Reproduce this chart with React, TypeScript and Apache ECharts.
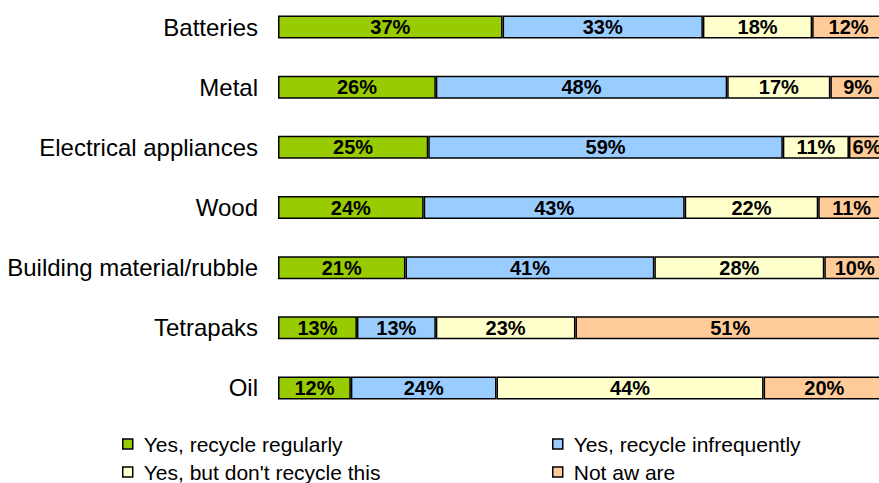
import React, { useEffect, useRef } from "react";
import * as echarts from "echarts";

const categories = [
  "Batteries",
  "Metal",
  "Electrical appliances",
  "Wood",
  "Building material/rubble",
  "Tetrapaks",
  "Oil",
];
const seriesNames = [
  "Yes, recycle regularly",
  "Yes, recycle infrequently",
  "Yes, but don't recycle this",
  "Not aw are",
];
const regularly = [37, 26, 25, 24, 21, 13, 12];
const infrequently = [33, 48, 59, 43, 41, 13, 24];
const dontRecycle = [18, 17, 11, 22, 28, 23, 44];
const notAware = [12, 9, 6, 11, 10, 51, 20];
const colors = ["#99CC00", "#99CCFF", "#FFFFCC", "#FFCC99"];

const FONT = "'Liberation Sans', Arial, sans-serif";

export default function App() {
  const ref = useRef<HTMLDivElement>(null);
  useEffect(() => {
    if (!ref.current) return;
    const chart = echarts.init(ref.current, undefined, { renderer: "svg" });
    const all = [regularly, infrequently, dontRecycle, notAware];
    const totals = categories.map((_, i) =>
      all.reduce((s, arr) => s + arr[i], 0)
    );
    const series = all.map((arr, si) => ({
      name: seriesNames[si],
      type: "bar",
      stack: "total",
      barWidth: 23,
      data: arr.map((v, i) => ({ value: (v / totals[i]) * 100, raw: v })),
      itemStyle: {
        color: colors[si],
        borderColor: "#000",
        borderWidth: 1.5,
      },
      label: {
        show: true,
        position: "inside",
        color: "#000",
        fontFamily: FONT,
        fontWeight: "bold",
        fontSize: 20,
        formatter: (p: any) => `${p.data.raw}%`,
      },
    }));
    // container is shifted up by 3px, so add 3 to page positions
    const legendPos = [
      { left: 122, top: 436 },
      { left: 552, top: 436 },
      { left: 122, top: 464 },
      { left: 552, top: 464 },
    ];
    const legend = seriesNames.map((n, i) => ({
      data: [n],
      left: legendPos[i].left,
      top: legendPos[i].top,
      icon: "rect",
      itemWidth: 10,
      itemHeight: 10,
      padding: 0,
      itemStyle: { borderColor: "#000", borderWidth: 1.5 },
      selectedMode: false,
      textStyle: {
        color: "#000",
        fontFamily: FONT,
        fontSize: 21,
        lineHeight: 22,
        padding: [0, 0, 0, 6],
      },
    }));
    chart.setOption({
      animation: false,
      backgroundColor: "#fff",
      legend,
      grid: { left: 278, top: 0, width: 607, height: 421 },
      xAxis: {
        type: "value",
        min: 0,
        max: 100,
        show: false,
      },
      yAxis: {
        type: "category",
        data: categories,
        inverse: true,
        axisLine: { show: false },
        axisTick: { show: false },
        splitLine: { show: false },
        axisLabel: {
          color: "#000",
          fontFamily: FONT,
          fontSize: 24,
          margin: 20,
        },
      },
      series,
    });
    return () => chart.dispose();
  }, []);
  return (
    <div
      style={{
        position: "absolute",
        left: 0,
        top: 0,
        width: 879,
        height: 483,
        overflow: "hidden",
        background: "#fff",
      }}
    >
      <div
        ref={ref}
        style={{ position: "absolute", left: 0, top: -3, width: 900, height: 486 }}
      />
    </div>
  );
}
